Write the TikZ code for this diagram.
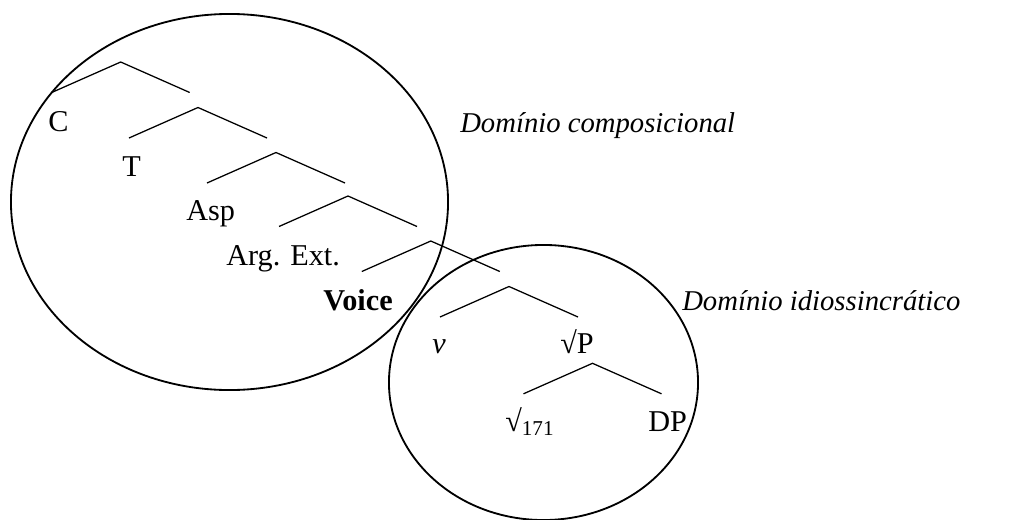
\documentclass[tikz,border=0pt]{standalone}
\usepackage{fontspec}
\setmainfont{Liberation Serif}
\usetikzlibrary{positioning,calc}

\begin{document}
\begin{tikzpicture}[
    x=0.025cm, y=-0.025cm,
    branch/.style={line width=0.9pt, black},
    domring/.style={line width=1.3pt, black},
    lbl/.style={anchor=base west, inner sep=0pt, font=\fontsize{21.5}{24}\selectfont},
    dom/.style={anchor=base west, inner sep=0pt, font=\fontsize{20.4}{24}\selectfont\itshape},
]
\useasboundingbox (0,0) rectangle (1022,520);

% Domains
\coordinate (compo) at (229.5,202);
\coordinate (idio) at (543.5,382.5);
\draw[domring] (compo) ellipse [x radius=5.4625cm, y radius=4.7cm];
\draw[domring] (idio) ellipse [x radius=3.8625cm, y radius=3.4375cm];

% Branches
\foreach \n/\bx/\by in {1/120.7/62, 2/198/107.5, 3/276/152.5, 4/348/196,
                        5/430.8/241, 6/509/286.5, 7/592.5/363.3} {
    \coordinate (b\n) at (\bx,\by);
    \path (b\n) ++(-69,30.5) coordinate (b\n l);
    \path (b\n) ++(69,30.5) coordinate (b\n r);
    \draw[branch] (b\n l) -- (b\n) -- (b\n r);
}

% Heads
\node[lbl] (C) at (48,131) {C};
\node[lbl] (T) at (122,176) {T};
\node[lbl] (asp) at (186,220) {Asp};
\node[lbl] (argext) at (226,265) {Arg. Ext.};
\node[lbl] (voice) at (323,310) {\textbf{Voice}};
\node[lbl] (v) at (432,353) {\textit{v}};
\node[lbl] (rootP) at (560,353) {√P};
\node[lbl] (root) at (505,431) {√\textsubscript{171}};
\node[lbl] (DP) at (648,431) {DP};

% Domain labels
\node[dom] (domcomp) at (460,132) {Domínio composicional};
\node[dom] (domidio) at (682,310) {Domínio idiossincrático};
\end{tikzpicture}
\end{document}
